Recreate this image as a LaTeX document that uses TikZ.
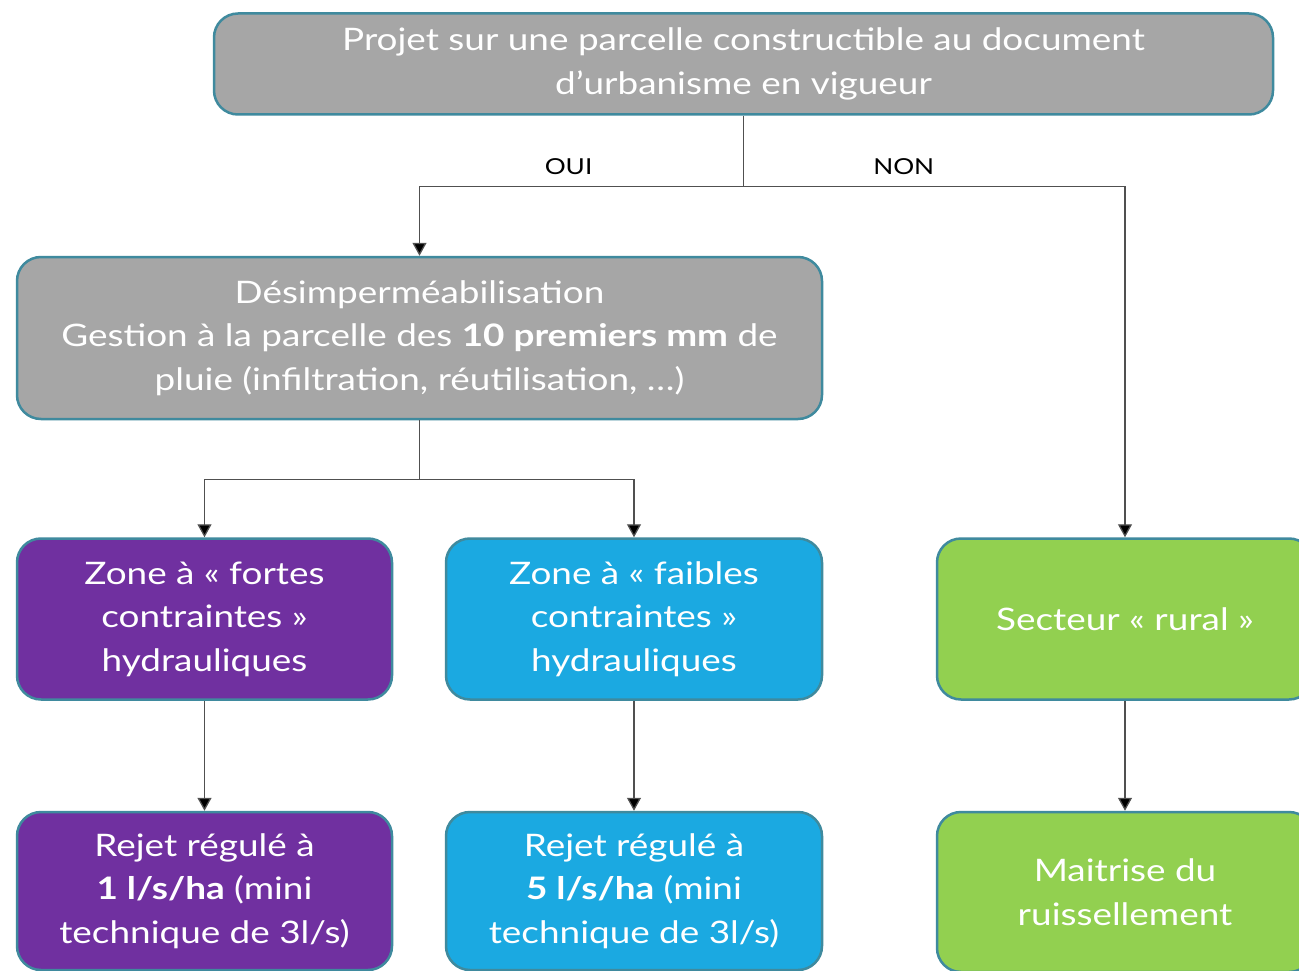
\documentclass[tikz,border=0pt]{standalone}
\usepackage{fontspec}
\setmainfont{Lato}[FakeStretch=1.19]
\usepackage{xcolor}
\usetikzlibrary{arrows.meta}

\definecolor{boxgray}{HTML}{A6A6A6}
\definecolor{boxline}{HTML}{3F8A9E}
\definecolor{fortes}{HTML}{7030A0}
\definecolor{faibles}{HTML}{1BA9E1}
\definecolor{rural}{HTML}{92D050}
\definecolor{wire}{HTML}{505050}

\tikzset{
  box/.style={draw=boxline, line width=2.5pt, rounded corners=24pt, align=center,
    text=white, font=\fontsize{31}{43.5}\selectfont, inner sep=0pt},
  wire/.style={draw=wire, line width=1.3pt},
  arr/.style={wire, -{Triangle[width=14pt,length=13pt,fill=black]}},
  lbl/.style={font=\fontsize{22}{26}\selectfont, text=black}
}

\begin{document}
\begin{tikzpicture}[x=1pt,y=-1pt]
  \clip (0,0) rectangle (1299,971);
  \fill[white] (0,0) rectangle (1299,971);

  % boxes
  \node[box, fill=boxgray, minimum width=1059pt, minimum height=101pt] (projet) at (743.5,64)
    {Projet sur une parcelle constructible au document\\d’urbanisme en vigueur};
  \node[box, fill=boxgray, minimum width=805pt, minimum height=162pt] (desimp) at (419.5,338)
    {Désimperméabilisation\\Gestion à la parcelle des \textbf{10 premiers mm} de\\pluie (infiltration, réutilisation, …)};
  \node[box, fill=fortes, minimum width=375pt, minimum height=161pt] (zfortes) at (204.5,619)
    {Zone à « fortes\\contraintes »\\hydrauliques};
  \node[box, fill=faibles, minimum width=376pt, minimum height=161pt] (zfaibles) at (634,619)
    {Zone à « faibles\\contraintes »\\hydrauliques};
  \node[box, fill=rural, minimum width=376pt, minimum height=161pt] (srural) at (1125,619)
    {Secteur « rural »};
  \node[box, fill=fortes, minimum width=375pt, minimum height=158pt] (rejetun) at (204.5,891)
    {Rejet régulé à\\\textbf{1 l/s/ha} (mini\\technique de 3l/s)};
  \node[box, fill=faibles, minimum width=376pt, minimum height=158pt] (rejetcinq) at (634,891)
    {Rejet régulé à\\\textbf{5 l/s/ha} (mini\\technique de 3l/s)};
  \node[box, fill=rural, minimum width=376pt, minimum height=160pt] (maitrise) at (1125,892)
    {Maitrise du\\ruissellement};

  % connectors
  \draw[wire] (projet.south) -- ++(0,70.5) coordinate (split);
  \draw[arr] (split) -| node[lbl, pos=0.27, above=8pt] {OUI} (desimp.north);
  \draw[arr] (split) -| node[lbl, pos=0.21, above=8pt] {NON} (srural.north);
  \draw[wire] (desimp.south) -- ++(0,59) coordinate (fork);
  \draw[arr] (fork) -| (zfortes.north);
  \draw[arr] (fork) -| (zfaibles.north);
  \draw[arr] (zfortes.south) -- (rejetun.north);
  \draw[arr] (zfaibles.south) -- (rejetcinq.north);
  \draw[arr] (srural.south) -- (maitrise.north);
\end{tikzpicture}
\end{document}
